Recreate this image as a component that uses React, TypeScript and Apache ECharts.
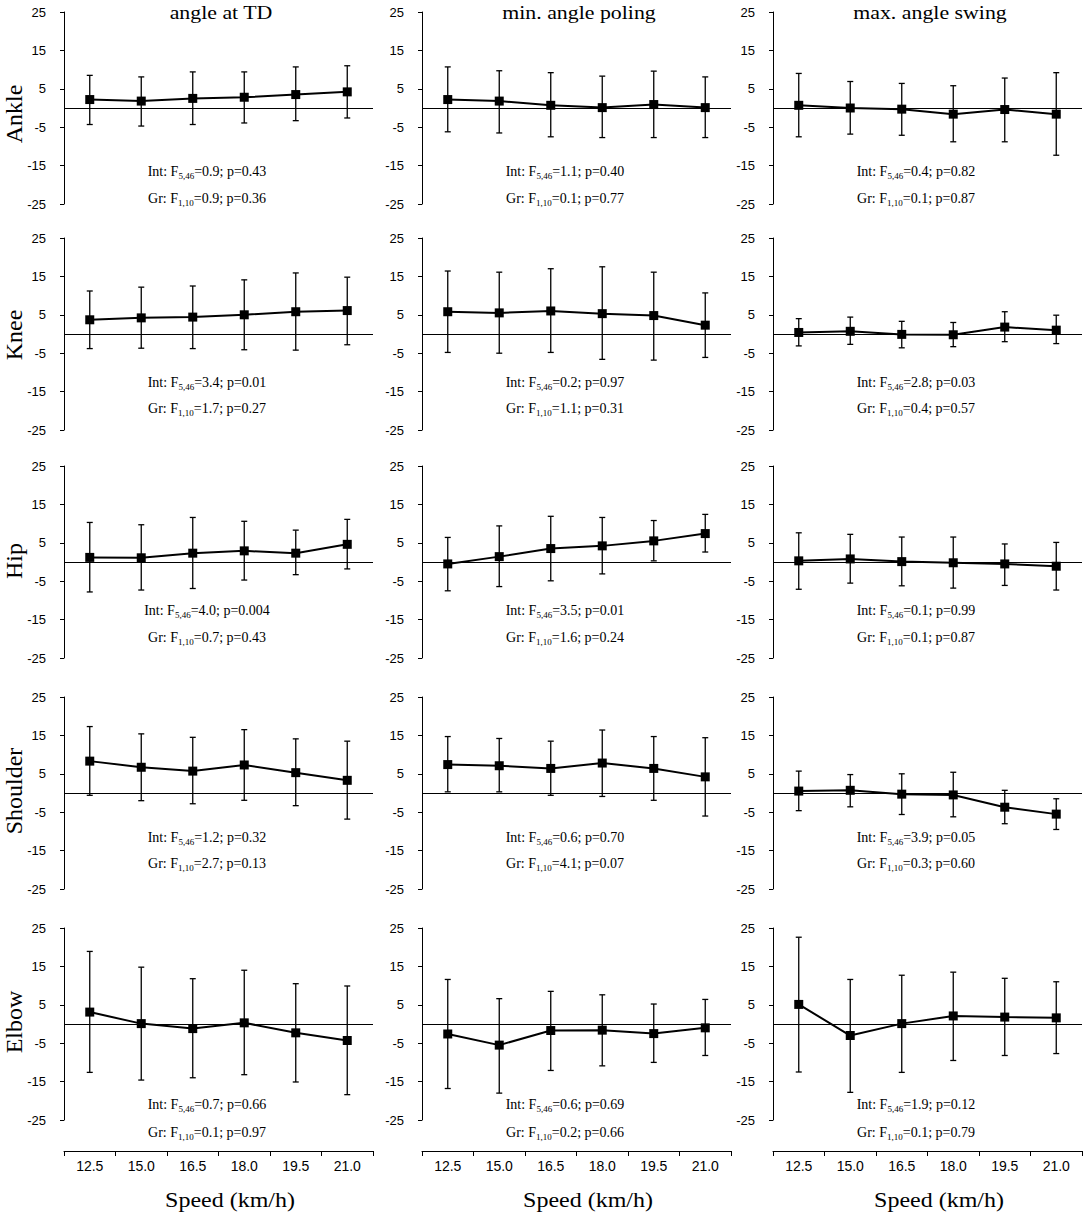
import React, { useEffect, useRef } from "react";
import * as echarts from "echarts";

// ---------- data ----------
const speeds = ["12.5", "15.0", "16.5", "18.0", "19.5", "21.0"];
const joints = ["Ankle", "Knee", "Hip", "Shoulder", "Elbow"];
const measures = ["angle at TD", "min. angle poling", "max. angle swing"];
const xAxisTitle = "Speed (km/h)";
const yTickMin = -25;
const yTickMax = 25;
const yTickStep = 10;

// each joint: [angle at TD, min. angle poling, max. angle swing]
const ankleMean = [
  [2.2, 1.8, 2.5, 2.8, 3.5, 4.2],
  [2.2, 1.8, 0.7, 0.1, 0.9, 0.1],
  [0.7, 0.0, -0.3, -1.6, -0.4, -1.6],
];
const ankleUpper = [
  [8.5, 8.1, 9.4, 9.4, 10.7, 11.0],
  [10.7, 9.7, 9.2, 8.3, 9.6, 8.1],
  [9.0, 6.9, 6.4, 5.8, 7.8, 9.2],
];
const ankleLower = [
  [-4.3, -4.7, -4.3, -3.9, -3.3, -2.6],
  [-6.2, -6.5, -7.5, -7.7, -7.7, -7.7],
  [-7.5, -6.8, -7.1, -8.8, -8.8, -12.3],
];

const kneeMean = [
  [3.7, 4.2, 4.4, 5.0, 5.8, 6.1],
  [5.8, 5.5, 6.0, 5.3, 4.8, 2.3],
  [0.4, 0.7, -0.1, -0.2, 1.8, 1.0],
];
const kneeUpper = [
  [11.2, 12.2, 12.5, 14.1, 15.9, 14.8],
  [16.4, 16.1, 17.0, 17.5, 16.1, 10.7],
  [4.0, 4.4, 3.3, 3.0, 5.8, 4.9],
];
const kneeLower = [
  [-3.8, -3.7, -3.8, -4.1, -4.2, -2.8],
  [-4.8, -5.0, -4.8, -6.6, -6.8, -6.1],
  [-3.1, -2.7, -3.6, -3.3, -2.0, -2.5],
];

const hipMean = [
  [1.2, 1.1, 2.3, 2.9, 2.3, 4.6],
  [-0.5, 1.4, 3.5, 4.2, 5.5, 7.4],
  [0.3, 0.8, 0.1, -0.2, -0.5, -1.1],
];
const hipUpper = [
  [10.3, 9.7, 11.6, 10.6, 8.3, 11.1],
  [6.4, 9.4, 11.9, 11.6, 10.8, 12.4],
  [7.6, 7.2, 6.5, 6.5, 4.7, 5.1],
];
const hipLower = [
  [-7.8, -7.3, -6.9, -4.7, -3.3, -1.8],
  [-7.5, -6.4, -4.9, -3.1, 0.3, 2.6],
  [-7.1, -5.5, -6.2, -6.8, -6.1, -7.3],
];

const shoulderMean = [
  [8.3, 6.7, 5.7, 7.3, 5.3, 3.3],
  [7.4, 7.1, 6.4, 7.8, 6.4, 4.2],
  [0.5, 0.7, -0.3, -0.5, -3.7, -5.5],
];
const shoulderUpper = [
  [17.3, 15.4, 14.5, 16.5, 14.1, 13.5],
  [14.7, 14.2, 13.5, 16.4, 14.7, 14.4],
  [5.7, 4.8, 5.0, 5.4, 0.7, -1.5],
];
const shoulderLower = [
  [-0.6, -2.0, -2.8, -1.9, -3.3, -6.8],
  [0.3, 0.3, -0.6, -0.9, -1.9, -6.0],
  [-4.6, -3.6, -5.6, -6.2, -8.0, -9.5],
];

const elbowMean = [
  [3.1, 0.1, -1.2, 0.3, -2.3, -4.3],
  [-2.6, -5.5, -1.7, -1.6, -2.5, -1.0],
  [5.1, -3.0, 0.1, 2.1, 1.8, 1.6],
];
const elbowUpper = [
  [18.9, 14.8, 11.8, 14.0, 10.5, 9.9],
  [11.6, 6.6, 8.5, 7.6, 5.2, 6.4],
  [22.6, 11.6, 12.7, 13.5, 11.9, 11.0],
];
const elbowLower = [
  [-12.6, -14.6, -14.0, -13.2, -15.1, -18.4],
  [-16.8, -18.0, -12.1, -10.9, -10.0, -8.2],
  [-12.5, -17.8, -12.6, -9.5, -8.2, -7.7],
];

// statistics text: rows = joints, columns = measures
const intF = [
  ["0.9", "1.1", "0.4"],
  ["3.4", "0.2", "2.8"],
  ["4.0", "3.5", "0.1"],
  ["1.2", "0.6", "3.9"],
  ["0.7", "0.6", "1.9"],
];
const intP = [
  ["0.43", "0.40", "0.82"],
  ["0.01", "0.97", "0.03"],
  ["0.004", "0.01", "0.99"],
  ["0.32", "0.70", "0.05"],
  ["0.66", "0.69", "0.12"],
];
const grF = [
  ["0.9", "0.1", "0.1"],
  ["1.7", "1.1", "0.4"],
  ["0.7", "1.6", "0.1"],
  ["2.7", "4.1", "0.3"],
  ["0.1", "0.2", "0.1"],
];
const grP = [
  ["0.36", "0.77", "0.87"],
  ["0.27", "0.31", "0.57"],
  ["0.43", "0.24", "0.87"],
  ["0.13", "0.07", "0.60"],
  ["0.97", "0.66", "0.79"],
];
const intDf = "5,46";
const grDf = "1,10";

const meanSets = [ankleMean, kneeMean, hipMean, shoulderMean, elbowMean];
const upperSets = [ankleUpper, kneeUpper, hipUpper, shoulderUpper, elbowUpper];
const lowerSets = [ankleLower, kneeLower, hipLower, shoulderLower, elbowLower];

// ---------- layout ----------
const W = 1084;
const H = 1215;
const colLeft = [64, 422, 773];
const gridW = 309;
const rowTop = [12, 238, 466, 697, 928];
const gridH = 192;
const intDy = [159, 144, 144, 140, 176];
const grDy = [186, 170, 171, 166, 204];
const rowLabelY = [114, 335, 561, 791, 1022];

const SERIF = '"Liberation Serif", "Times New Roman", serif';
const SANS = '"Liberation Sans", Arial, sans-serif';

function buildOption() {
  const grid: any[] = [];
  const xAxis: any[] = [];
  const yAxis: any[] = [];
  const series: any[] = [];
  const graphic: any[] = [];
  let idx = 0;

  joints.forEach((joint, r) => {
    measures.forEach((m, c) => {
      const isBottom = r === joints.length - 1;
      grid.push({
        left: colLeft[c],
        top: rowTop[r],
        width: gridW,
        height: gridH,
        containLabel: false,
        outerBoundsMode: "none",
      });
      xAxis.push({
        type: "category",
        gridIndex: idx,
        data: speeds,
        boundaryGap: true,
        show: isBottom,
        offset: isBottom ? 31 : 0,
        position: "bottom",
        axisLine: { show: true, onZero: false, lineStyle: { color: "#000", width: 1 } },
        axisTick: { show: true, inside: false, length: 5, lineStyle: { color: "#000", width: 1 } },
        axisLabel: {
          show: true,
          color: "#000",
          fontFamily: SANS,
          fontSize: 14,
          margin: 8,
        },
        splitLine: { show: false },
      });
      yAxis.push({
        type: "value",
        gridIndex: idx,
        min: yTickMin,
        max: yTickMax,
        interval: yTickStep,
        axisLine: { show: true, lineStyle: { color: "#000", width: 1 } },
        axisTick: { show: true, inside: false, length: 4, lineStyle: { color: "#000", width: 1 } },
        axisLabel: {
          color: "#000",
          fontFamily: SANS,
          fontSize: 13,
          margin: 18,
          padding: [6, 0, 0, 0],
        },
        splitLine: { show: false },
      });

      const mean = meanSets[r][c];
      const up = upperSets[r][c];
      const lo = lowerSets[r][c];

      series.push({
        type: "custom",
        xAxisIndex: idx,
        yAxisIndex: idx,
        silent: true,
        z: 2,
        renderItem: (params: any, api: any) => {
          const x = api.value(0);
          const pHi = api.coord([x, api.value(2)]);
          const pLo = api.coord([x, api.value(1)]);
          const w = 3;
          const st = { stroke: "#000", lineWidth: 1.3 };
          return {
            type: "group",
            children: [
              { type: "line", shape: { x1: pHi[0], y1: pHi[1], x2: pLo[0], y2: pLo[1] }, style: st },
              { type: "line", shape: { x1: pHi[0] - w, y1: pHi[1], x2: pHi[0] + w, y2: pHi[1] }, style: st },
              { type: "line", shape: { x1: pLo[0] - w, y1: pLo[1], x2: pLo[0] + w, y2: pLo[1] }, style: st },
            ],
          };
        },
        encode: { x: 0, y: [1, 2] },
        data: speeds.map((_, i) => [i, lo[i], up[i]]),
      });

      series.push({
        type: "line",
        xAxisIndex: idx,
        yAxisIndex: idx,
        silent: true,
        z: 3,
        data: mean,
        symbol: "rect",
        symbolSize: 9,
        itemStyle: { color: "#000" },
        lineStyle: { color: "#000", width: 2 },
        markLine: {
          silent: true,
          symbol: ["none", "none"],
          label: { show: false },
          lineStyle: { color: "#000", width: 1.2, type: "solid" },
          data: [{ yAxis: 0 }],
          z: 1,
        },
      });

      const cx = colLeft[c] + 143;
      graphic.push({
        type: "text",
        x: cx,
        y: rowTop[r] + intDy[r],
        silent: true,
        style: {
          text: `{m|Int: F}{s|${intDf}}{m|=${intF[r][c]}; p=${intP[r][c]}}`,
          textAlign: "center",
          textVerticalAlign: "middle",
          rich: {
            m: { fontFamily: SERIF, fontSize: 14, fill: "#000", lineHeight: 18 },
            s: { fontFamily: SERIF, fontSize: 9, fill: "#000", lineHeight: 8, verticalAlign: "bottom" },
          },
        },
      });
      graphic.push({
        type: "text",
        x: cx,
        y: rowTop[r] + grDy[r],
        silent: true,
        style: {
          text: `{m|Gr: F}{s|${grDf}}{m|=${grF[r][c]}; p=${grP[r][c]}}`,
          textAlign: "center",
          textVerticalAlign: "middle",
          rich: {
            m: { fontFamily: SERIF, fontSize: 14, fill: "#000", lineHeight: 18 },
            s: { fontFamily: SERIF, fontSize: 9, fill: "#000", lineHeight: 8, verticalAlign: "bottom" },
          },
        },
      });

      idx++;
    });

    graphic.push({
      type: "text",
      x: 14,
      y: rowLabelY[r],
      rotation: Math.PI / 2,
      silent: true,
      style: {
        text: joint,
        fontFamily: SERIF,
        fontSize: 24,
        fill: "#000",
        textAlign: "center",
        textVerticalAlign: "middle",
      },
    });
  });

  measures.forEach((m, c) => {
    graphic.push({
      type: "text",
      x: colLeft[c] + 157,
      y: 13,
      scaleX: 1.15,
      silent: true,
      style: {
        text: m,
        fontFamily: SERIF,
        fontSize: 19,
        fill: "#000",
        textAlign: "center",
        textVerticalAlign: "middle",
      },
    });
    graphic.push({
      type: "text",
      x: colLeft[c] + 166,
      y: 1200,
      scaleX: 1.2,
      silent: true,
      style: {
        text: xAxisTitle,
        fontFamily: SERIF,
        fontSize: 20,
        fill: "#000",
        textAlign: "center",
        textVerticalAlign: "middle",
      },
    });
  });

  return {
    animation: false,
    backgroundColor: "#fff",
    grid,
    xAxis,
    yAxis,
    series,
    graphic,
  };
}

export default function App() {
  const ref = useRef<HTMLDivElement>(null);
  useEffect(() => {
    if (!ref.current) return;
    const chart = echarts.init(ref.current, undefined, { renderer: "svg" });
    chart.setOption(buildOption() as any);
    return () => {
      chart.dispose();
    };
  }, []);
  return (
    <div
      ref={ref}
      style={{ position: "absolute", left: 0, top: 0, width: W, height: H, background: "#fff" }}
    />
  );
}
